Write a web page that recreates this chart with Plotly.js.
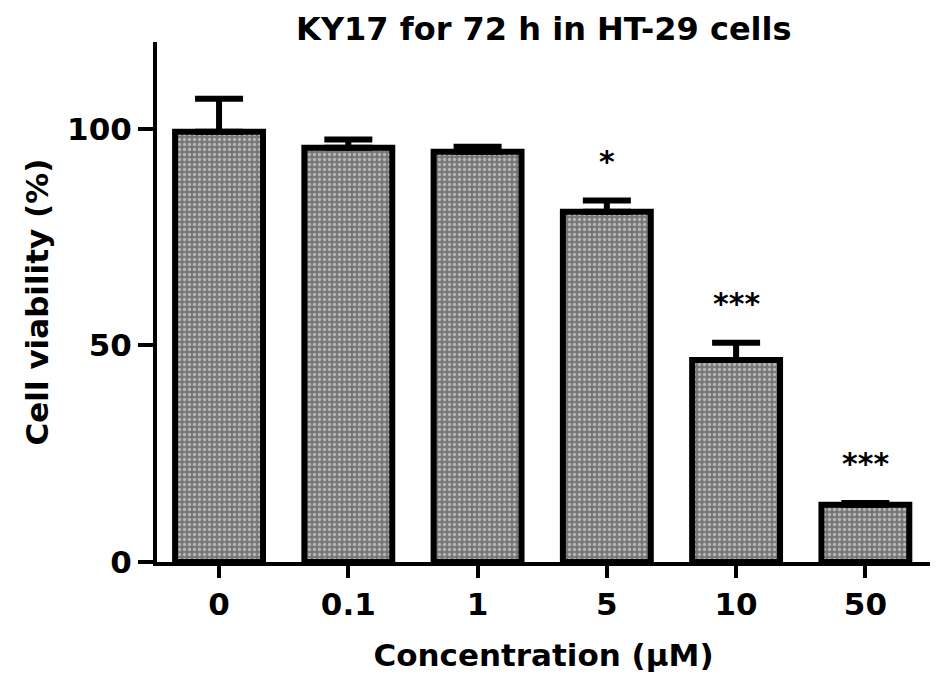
<!DOCTYPE html>
<html>
<head>
<meta charset="utf-8">
<script src="https://cdn.plot.ly/plotly-3.0.1.min.js"></script>
<style>html,body{margin:0;padding:0;background:#fff}#chart{width:945px;height:684px}</style>
</head>
<body>
<div id="chart"></div>
<script>
const categories = ["0", "0.1", "1", "5", "10", "50"];
const viability = [99.3, 95.6, 94.7, 80.8, 46.6, 13.2];
const errorUp = [7.6, 1.9, 1.1, 2.6, 4.0, 0.4];
const significance = ["", "", "", "*", "***", "***"];

const FONT = "DejaVu Sans, sans-serif";

const trace = {
  type: "bar",
  x: categories,
  y: viability,
  width: 0.68,
  marker: {
    color: "#8a8a8a",
    line: {color: "#000", width: 6},
    pattern: {shape: ".", fgcolor: "#f4f4f4", bgcolor: "#777", size: 5, solidity: 0.35, fillmode: "overlay"}
  },
  error_y: {
    type: "data", symmetric: false, array: errorUp,
    arrayminus: errorUp.map(() => 0),
    color: "#000", thickness: 6, width: 24
  },
  hoverinfo: "skip"
};

const annotations = [];
categories.forEach((c, i) => {
  if (!significance[i]) return;
  annotations.push({
    x: i, y: viability[i] + errorUp[i], xref: "x", yref: "y",
    text: significance[i], showarrow: false, yanchor: "bottom", yshift: 20,
    font: {family: FONT, size: 30, color: "#000", weight: "bold"}
  });
});

const layout = {
  width: 945, height: 684,
  margin: {l: 157, r: 15, t: 42, b: 122},
  paper_bgcolor: "#fff", plot_bgcolor: "#fff",
  showlegend: false,
  title: {text: "KY17 for 72 h in HT-29 cells", x: 0.5755, xanchor: "center", y: 0.958, yanchor: "middle",
          font: {family: FONT, size: 32, color: "#000", weight: "bold"}},
  xaxis: {
    type: "category", range: [-0.48, 5.5],
    showline: true, linecolor: "#000", linewidth: 4,
    ticks: "outside", ticklen: 12, tickwidth: 4, tickcolor: "#000",
    tickfont: {family: FONT, size: 31, color: "#000", weight: "bold"},
    showgrid: false, zeroline: false,
    title: {text: "Concentration (µM)", standoff: 24, font: {family: FONT, size: 31, color: "#000", weight: "bold"}}
  },
  yaxis: {
    range: [0, 120], tickvals: [0, 50, 100],
    showline: true, linecolor: "#000", linewidth: 4,
    ticks: "outside", ticklen: 15, tickwidth: 4, tickcolor: "#000",
    tickfont: {family: FONT, size: 31, color: "#000", weight: "bold"},
    showgrid: false, zeroline: false,
    title: {text: "Cell viability (%)", standoff: 10, font: {family: FONT, size: 31, color: "#000", weight: "bold"}}
  },
  annotations: annotations
};

Plotly.newPlot("chart", [trace], layout, {displayModeBar: false, staticPlot: true});
</script>
</body>
</html>
